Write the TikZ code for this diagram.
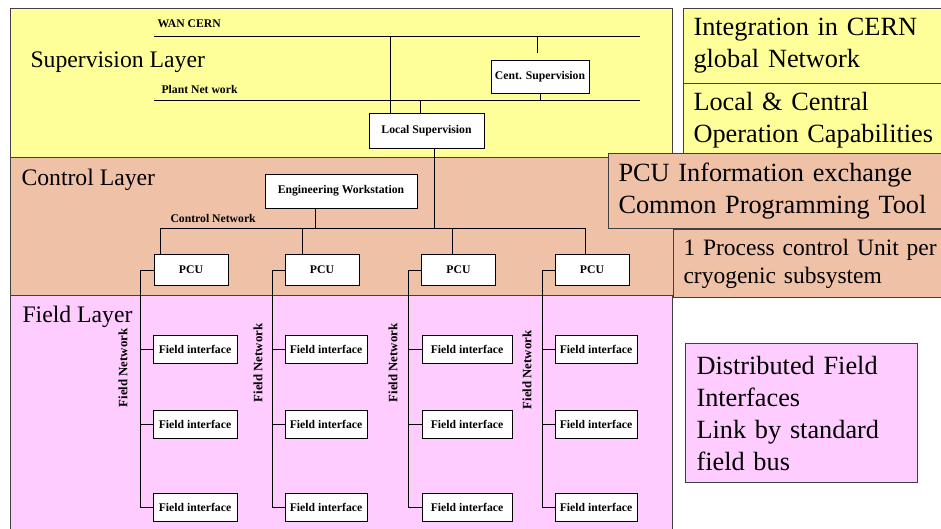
\documentclass[tikz,border=0pt]{standalone}
\usepackage{fontspec}
\setmainfont{Liberation Serif}
\definecolor{supyellow}{RGB}{255,255,153}
\definecolor{ctrlsalmon}{RGB}{239,193,167}
\definecolor{fieldpink}{RGB}{255,204,255}
\newcommand{\smallbf}{\fontsize{11.7}{13}\selectfont\bfseries}
\newcommand{\layerfont}{\fontsize{23.7}{27}\selectfont}
\newcommand{\notefont}{\fontsize{26.3}{32}\selectfont}
\tikzset{
  unitbox/.style={draw=black,fill=white,font=\smallbf,inner sep=0pt,line width=1pt},
  netlabel/.style={font=\smallbf,inner sep=0pt},
  layerlabel/.style={font=\layerfont,inner sep=0pt,anchor=west},
  note/.style={draw=black!75,line width=1pt,anchor=north west,align=left,
    text width=#1,inner xsep=10pt,inner ysep=0pt,font=\notefont},
  note/.default=340pt,
  layer/.style={draw=black!75,line width=1pt}}
% one PCU with its field bus and three field interfaces
\newcommand{\pcucolumn}[7]{%
  \node[unitbox,minimum width=74pt,minimum height=31pt] (pcu#1) at (#2,270) {PCU};
  \coordinate (drop#1) at (#3,228); \coordinate (bus#1) at (#4,507);
  \draw (drop#1) -- (drop#1 |- pcu#1.north);
  \draw (pcu#1.west) -| (bus#1);
  \foreach \row/\y in {a/349,b/424,c/507}{
    \node[unitbox,minimum width=#6pt,minimum height=28pt] (fi\row#1) at (#5,\y) {Field interface};
    \draw (fi\row#1.west) -- (fi\row#1.west -| bus#1);}
  \node[netlabel,rotate=90,font=\fontsize{12.8}{14}\selectfont\bfseries] (fnet#1) at (#7) {Field Network};}

\begin{document}
\begin{tikzpicture}[x=1pt,y=-1pt,line width=1pt]
\clip (0,0) rectangle (941,528);
% layers
\draw[layer,fill=ctrlsalmon] (10,157) rectangle (673,295);
\draw[layer,fill=supyellow] (10,8) rectangle (672,157);
\draw[layer,fill=fieldpink] (10,295) rectangle (672,540);
\node[layerlabel] (suplabel) at (30,62) {Supervision Layer};
\node[layerlabel] (ctrllabel) at (21,180) {Control Layer};
\node[layerlabel] (fieldlabel) at (22,317) {Field Layer};
% supervision
\coordinate (wanW) at (154,36); \coordinate (wanE) at (640,36);
\coordinate (plantW) at (154,100); \coordinate (plantE) at (640,100);
\node[netlabel,anchor=west] (wanlabel) at (157,24) {WAN CERN};
\node[netlabel,anchor=west] (plantlabel) at (161,89) {Plant Net work};
\node[unitbox,minimum width=98pt,minimum height=33pt] (centsup) at (540,76.5) {Cent. Supervision};
\node[unitbox,minimum width=115pt,minimum height=35pt] (locsup) at (426.5,130.5) {Local Supervision};
\draw (wanW) -- (wanE); \draw (plantW) -- (plantE);
\coordinate (wanTap) at (390,36); \coordinate (wanTap2) at (537,36);
\coordinate (plantTap) at (420,100);
\draw (wanTap) -- (wanTap |- locsup.north);
\draw[shorten >=7pt] (wanTap2) -- (wanTap2 |- centsup.north);
\draw (centsup.south) -- (centsup.south |- plantW);
\draw (plantTap) -- (plantTap |- locsup.north);
% control
\coordinate (ctrlW) at (160,228); \coordinate (ctrlE) at (585,228);
\coordinate (lsTap) at (434,228); \coordinate (ewTap) at (315,228);
\node[unitbox,minimum width=152pt,minimum height=34pt] (engws) at (341,191) {Engineering Workstation};
\node[netlabel,anchor=west] (ctrlnetlabel) at (170,218) {Control Network};
\draw (ctrlW) -- (ctrlE);
\draw (lsTap) -- (lsTap |- locsup.south);
\draw (ewTap) -- (ewTap |- engws.south);
% PCUs and field layer
\pcucolumn{1}{191}{160}{140}{195}{84}{123,368}
\pcucolumn{2}{322}{302}{272}{326}{82}{258,363}
\pcucolumn{3}{458.5}{452}{408}{467}{90}{393,363}
\pcucolumn{4}{592}{585}{542}{596}{82}{527,370}
% notes on the right
\node[note,fill=supyellow,minimum height=75pt] (integ) at (683,8) {Integration in CERN\\global Network};
\node[note,fill=supyellow,minimum height=73pt] (opcap) at (683,83) {Local \& Central\\Operation Capabilities};
\node[note,fill=ctrlsalmon,minimum height=75pt] (pcuinfo) at (608,153) {PCU Information exchange\\Common Programming Tool};
\node[note,fill=ctrlsalmon,minimum height=68pt,font=\fontsize{23.5}{28}\selectfont] (onepcu) at (673,229) {1 Process control Unit per\\cryogenic subsystem};
\node[note=210pt,fill=fieldpink,minimum height=139pt,inner xsep=11pt] (distfield) at (685,343) {Distributed Field\\Interfaces\\Link by standard\\field bus};
\end{tikzpicture}
\end{document}
